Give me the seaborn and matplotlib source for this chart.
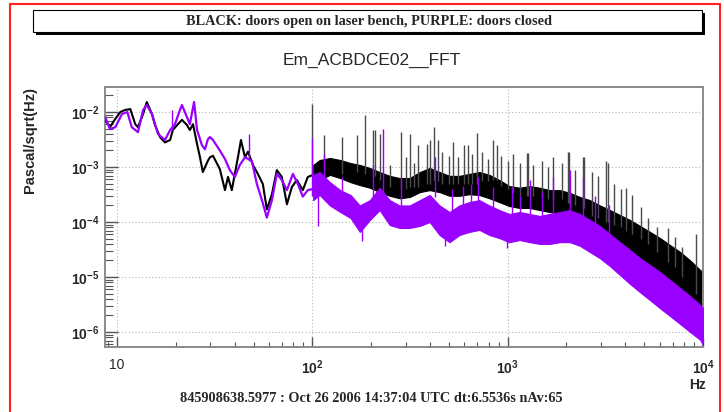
import numpy as np
import pandas as pd
import matplotlib
matplotlib.use("Agg")
import matplotlib.pyplot as plt
import seaborn as sns
from matplotlib.patches import Rectangle
from matplotlib.ticker import FixedLocator, FixedFormatter, LogLocator, NullFormatter

# ---------------------------------------------------------------- data
# low-frequency part of the "doors open" spectrum (Hz, Pa/sqrt(Hz))
black_freq = [8.7, 9.2, 9.8, 10.4, 11.0, 11.7, 12.4, 12.8, 13.6, 14.2, 15.1, 15.6,
              16.6, 17.6, 18.7, 19.3, 20.5, 21.5, 22.8, 23.6, 24.5, 25.7, 26.6, 27.5,
              29.2, 29.9, 31.0, 33.6, 35.7, 37.0, 38.7, 40.1, 41.6, 43.1, 45.2, 46.8,
              49.6, 52.6, 55.8, 58.5, 62.1, 65.8, 69.8, 74.1, 78.5, 83.3, 89.4, 94.8, 101]
black_amp = [7.2e-3, 5.3e-3, 7.5e-3, 1.0e-2, 1.09e-2, 1.13e-2, 6.0e-3, 5.3e-3, 9.2e-3,
             1.52e-2, 9.2e-3, 6.0e-3, 3.5e-3, 2.8e-3, 3.1e-3, 4.7e-3, 6.0e-3, 7.2e-3,
             5.8e-3, 4.7e-3, 6.0e-3, 2.6e-3, 1.5e-3, 8.1e-4, 1.3e-3, 1.5e-3, 1.6e-3,
             9.2e-4, 3.8e-4, 6.6e-4, 3.8e-4, 7.5e-4, 1.5e-3, 3.1e-3, 1.5e-3, 1.9e-3,
             1.1e-3, 7.5e-4, 4.9e-4, 1.7e-4, 3.2e-4, 8.8e-4, 6.6e-4, 2.1e-4, 4.3e-4,
             5.8e-4, 3.8e-4, 6.6e-4, 7.2e-4]

# low-frequency part of the "doors closed" spectrum
purple_freq = [8.7, 9.2, 9.8, 10.6, 11.3, 11.9, 12.8, 13.6, 14.2, 15.1, 16.2, 17.6, 18.7,
               19.8, 21.0, 21.5, 22.8, 23.6, 24.8, 25.7, 27.2, 28.2, 29.2, 29.9, 31.0,
               33.6, 35.7, 37.8, 40.1, 42.6, 45.2, 49.0, 52.0, 55.2, 58.5, 62.1, 65.8,
               69.8, 74.1, 79.5, 84.3, 89.4, 94.8, 101]
purple_amp = [8.1e-3, 4.9e-3, 5.3e-3, 9.2e-3, 1.0e-2, 5.3e-3, 4.3e-3, 1.09e-2, 1.34e-2,
              9.2e-3, 4.0e-3, 3.1e-3, 4.7e-3, 6.0e-3, 1.09e-2, 1.34e-2, 8.1e-3, 6.0e-3,
              1.52e-2, 4.7e-3, 2.5e-3, 2.1e-3, 3.2e-3, 3.5e-3, 3.1e-3, 2.0e-3, 1.4e-3,
              8.8e-4, 6.6e-4, 1.1e-3, 1.5e-3, 1.3e-3, 4.9e-4, 2.5e-4, 1.2e-4, 2.5e-4,
              7.5e-4, 5.8e-4, 3.8e-4, 7.5e-4, 4.9e-4, 2.9e-4, 3.8e-4, 4.0e-4]

# spread of the averaged spectra above 100 Hz (lower / upper edge)
band_freq = [101, 109, 123, 139, 157, 175, 197, 221, 249, 280, 315, 355, 399, 448, 504,
             566, 636, 716, 806, 907, 1021, 1152, 1296, 1459, 1642, 1848, 2080, 2341,
             2635, 2966, 3338, 3757, 4229, 4760, 5357, 6030, 6787, 7638, 8597, 9676, 10000]
black_band_hi = [1.09e-3, 1.34e-3, 1.46e-3, 1.34e-3, 1.18e-3, 1.09e-3, 9.6e-4, 8.1e-4,
                 6.9e-4, 6.3e-4, 6.3e-4, 8.1e-4, 9.6e-4, 8.1e-4, 6.9e-4, 6.9e-4, 7.5e-4,
                 8.1e-4, 7.2e-4, 5.8e-4, 4.5e-4, 4.2e-4, 4.5e-4, 4.2e-4, 3.8e-4, 3.8e-4,
                 3.4e-4, 2.85e-4, 2.5e-4, 2.0e-4, 1.65e-4, 1.34e-4, 1.09e-4, 8.5e-5,
                 6.6e-5, 5.1e-5, 3.8e-5, 2.85e-5, 2.0e-5, 1.34e-5, 1.23e-5]
black_band_lo = [4.7e-4, 5.8e-4, 7.2e-4, 6.3e-4, 5.3e-4, 4.7e-4, 4.2e-4, 3.5e-4, 3.0e-4,
                 2.7e-4, 2.85e-4, 3.5e-4, 3.8e-4, 3.5e-4, 3.0e-4, 3.0e-4, 3.2e-4, 3.1e-4,
                 2.7e-4, 2.3e-4, 1.95e-4, 1.8e-4, 1.8e-4, 1.65e-4, 1.52e-4, 1.4e-4,
                 1.29e-4, 1.09e-4, 9.2e-5, 7.2e-5, 5.6e-5, 4.3e-5, 3.1e-5, 2.2e-5,
                 1.58e-5, 1.13e-5, 7.5e-6, 4.7e-6, 2.7e-6, 1.65e-6, 1.34e-6]
purple_band_hi = [7.2e-4, 8.1e-4, 5.3e-4, 3.8e-4, 3.1e-4, 2.0e-4, 2.5e-4, 4.2e-4, 2.5e-4,
                  2.0e-4, 2.0e-4, 2.5e-4, 3.1e-4, 2.0e-4, 1.52e-4, 2.0e-4, 2.3e-4, 2.5e-4,
                  2.0e-4, 1.65e-4, 1.4e-4, 1.52e-4, 1.4e-4, 1.29e-4, 1.4e-4, 1.52e-4,
                  1.65e-4, 1.4e-4, 1.09e-4, 8.5e-5, 6.0e-5, 4.3e-5, 3.1e-5, 2.2e-5,
                  1.65e-5, 1.23e-5, 8.8e-6, 6.3e-6, 4.5e-6, 3.1e-6, 2.7e-6]
purple_band_lo = [2.5e-4, 3.1e-4, 2.0e-4, 1.52e-4, 1.18e-4, 6.6e-5, 1.09e-4, 1.65e-4,
                  8.8e-5, 7.8e-5, 7.8e-5, 8.5e-5, 1.0e-4, 5.8e-5, 4.3e-5, 5.8e-5, 6.6e-5,
                  7.2e-5, 5.8e-5, 5.1e-5, 4.3e-5, 4.7e-5, 4.3e-5, 4.0e-5, 4.0e-5, 4.3e-5,
                  4.3e-5, 3.7e-5, 2.85e-5, 2.2e-5, 1.58e-5, 1.09e-5, 7.5e-6, 5.3e-6,
                  3.8e-6, 2.7e-6, 1.95e-6, 1.4e-6, 1.0e-6, 7.2e-7, 5.8e-7]

# narrow lines of the "doors open" spectrum: frequency, peak, floor
black_spike_freq = [100, 114.5, 141.6, 168.9, 185.6, 204, 208.8, 221.5, 250, 283.7, 300,
                    315.3, 330, 346.5, 385.3, 399, 418.2, 438.4, 460, 500, 523.2, 554.9,
                    595.6, 624.4, 654.5, 694.1, 740, 790, 838, 878.4, 920, 1000, 1061,
                    1150, 1251, 1266, 1350, 1500, 1600, 1699, 1889, 2027, 2051, 2200,
                    2419, 2448, 2700, 2900, 3171, 3247, 3500, 3800, 4013, 4309, 4790,
                    5201, 5784, 6584, 7147, 7762, 9155]
black_spike_top = [1.39e-2, 3.8e-3, 3.5e-3, 3.8e-3, 8.8e-3, 4.7e-3, 4.7e-3, 4.0e-3, 1.1e-3,
                   4.3e-3, 1.5e-3, 4.0e-3, 1.2e-3, 2.5e-3, 2.6e-3, 3.1e-3, 5.3e-3, 3.1e-3,
                   1.9e-3, 1.6e-3, 2.9e-3, 1.5e-3, 2.5e-3, 2.5e-3, 1.7e-3, 4.1e-3, 1.9e-3,
                   1.4e-3, 3.1e-3, 2.5e-3, 1.6e-3, 1.3e-3, 1.7e-3, 1.2e-3, 1.8e-3, 1.8e-3,
                   1.1e-3, 1.3e-3, 1.0e-3, 1.5e-3, 1.2e-3, 1.9e-3, 1.9e-3, 9.0e-4, 1.5e-3,
                   1.5e-3, 8.0e-4, 7.0e-4, 1.3e-3, 1.2e-3, 5.0e-4, 4.0e-4, 4.2e-4, 3.1e-4,
                   1.9e-4, 1.2e-4, 8.1e-5, 7.8e-5, 5.3e-5, 3.5e-5, 6.0e-5]
black_spike_floor = [7.0e-4, 8.8e-4, 7.5e-4, 8.0e-4, 7.5e-4, 7.0e-4, 7.0e-4, 5.8e-4, 4.3e-4,
                     4.0e-4, 4.0e-4, 4.3e-4, 4.3e-4, 4.3e-4, 5.0e-4, 5.0e-4, 5.8e-4, 5.5e-4,
                     5.0e-4, 5.0e-4, 5.0e-4, 5.0e-4, 5.0e-4, 5.0e-4, 5.0e-4, 5.0e-4, 5.5e-4,
                     5.5e-4, 5.8e-4, 5.8e-4, 4.5e-4, 4.0e-4, 3.3e-4, 3.0e-4, 3.0e-4, 3.0e-4,
                     3.0e-4, 2.8e-4, 2.6e-4, 2.5e-4, 2.6e-4, 2.2e-4, 2.2e-4, 2.0e-4, 1.8e-4,
                     1.8e-4, 1.3e-4, 1.2e-4, 1.0e-4, 1.0e-4, 9.0e-5, 8.0e-5, 7.0e-5, 6.0e-5,
                     5.0e-5, 4.0e-5, 2.8e-5, 1.9e-5, 1.5e-5, 1.0e-5, 5.0e-6]

# narrow lines and dips of the "doors closed" spectrum
purple_spike_freq = [19.1, 47.3, 100, 106.5, 114.5, 141.6, 180, 204, 229, 283.7, 423, 480,
                     520, 590, 650, 702, 838, 990, 1048, 1150, 1296, 1500, 1699, 2075,
                     2419, 2800, 3300]
purple_spike_top = [1.09e-2, 4.0e-3, 3.3e-3, 3.0e-4, 1.7e-3, 6.6e-4, 1.0e-4, 1.1e-3,
                    5.0e-3, 6.6e-4, 1.5e-3, 6.0e-5, 4.0e-4, 4.5e-4, 5.0e-4, 6.6e-4, 4.3e-4,
                    6.0e-5, 4.3e-4, 3.0e-4, 5.8e-4, 3.5e-4, 6.6e-4, 8.8e-4, 6.6e-4,
                    3.0e-4, 2.0e-4]
purple_spike_floor = [4.7e-3, 1.3e-3, 3.0e-4, 8.5e-5, 4.0e-4, 2.0e-4, 4.5e-5, 2.0e-4,
                      2.5e-4, 1.1e-4, 2.8e-4, 3.6e-5, 6.0e-5, 8.0e-5, 9.0e-5, 1.6e-4,
                      1.5e-4, 3.4e-5, 7.0e-5, 7.0e-5, 8.0e-5, 6.0e-5, 6.0e-5, 8.0e-5,
                      6.0e-5, 3.0e-5, 2.5e-5]

x_ticks = [10, 100, 1000, 10000]
x_tick_labels = ["10", r"$10^{2}$", r"$10^{3}$", r"$10^{4}$"]
y_ticks = [1e-6, 1e-5, 1e-4, 1e-3, 1e-2]
y_tick_labels = [r"$10^{-6}$", r"$10^{-5}$", r"$10^{-4}$", r"$10^{-3}$", r"$10^{-2}$"]

# ---------------------------------------------------------------- style
sns.set_theme(style="white")
plt.rcParams["font.family"] = ["Liberation Sans", "DejaVu Sans"]
plt.rcParams["mathtext.fontset"] = "custom"
plt.rcParams["mathtext.rm"] = "Liberation Sans:bold"
plt.rcParams["mathtext.it"] = "Liberation Sans:bold"
plt.rcParams["mathtext.bf"] = "Liberation Sans:bold"

BLACK = "#000000"
PURPLE = "#9900ff"
W, H = 724, 412

fig = plt.figure(figsize=(W / 100, H / 100), dpi=100)
fig.patch.set_facecolor("white")

# red pad border
fig.add_artist(Rectangle((10 / W, -0.05), 710 / W, 1.05 - 4 / H, transform=fig.transFigure,
                         fill=False, edgecolor="#ff2020", linewidth=1.5))

# header box with drop shadow
bx0, by0, bw, bh = 33 / W, 1 - 32 / H, 669 / W, 22 / H
fig.add_artist(Rectangle((bx0 + 3 / W, by0 - 3 / H), bw, bh, transform=fig.transFigure,
                         facecolor="black", edgecolor="black", linewidth=0))
fig.add_artist(Rectangle((bx0, by0), bw, bh, transform=fig.transFigure,
                         facecolor="white", edgecolor="black", linewidth=0.8))
fig.text(369 / W, 1 - 21 / H, "BLACK: doors open on laser bench, PURPLE: doors closed",
         ha="center", va="center", fontsize=10.3, fontweight="bold",
         family=["Liberation Serif", "DejaVu Serif"])

fig.text(372 / W, 1 - 60 / H, "Em_ACBDCE02__FFT", ha="center", va="center", fontsize=12.5)

ax = fig.add_axes([105 / W, 1 - 347 / H, 598 / W, 260 / H])
ax.set_xscale("log")
ax.set_yscale("log")

# doors open
ax.fill_between(band_freq, black_band_lo, black_band_hi, color=BLACK, linewidth=0.8,
                edgecolor=BLACK, zorder=2)
sns.lineplot(x=black_freq, y=black_amp, ax=ax, color=BLACK, linewidth=1.5,
             sort=False, estimator=None, zorder=3)
ax.vlines(black_spike_freq, black_spike_floor, black_spike_top, color="#4a4a4a",
          linewidth=1.0, zorder=3)

# doors closed
ax.fill_between(band_freq, purple_band_lo, purple_band_hi, color=PURPLE, linewidth=0.8,
                edgecolor=PURPLE, zorder=4)
sns.lineplot(x=purple_freq, y=purple_amp, ax=ax, color=PURPLE, linewidth=1.6,
             sort=False, estimator=None, zorder=5)
ax.vlines(purple_spike_freq, purple_spike_floor, purple_spike_top, color=PURPLE,
          linewidth=1.0, zorder=5)

ax.set_xlim(8.68, 10000)
ax.set_ylim(5.34e-7, 2.85e-2)

ax.xaxis.set_major_locator(FixedLocator(x_ticks))
ax.xaxis.set_major_formatter(FixedFormatter(x_tick_labels))
ax.yaxis.set_major_locator(FixedLocator(y_ticks))
ax.yaxis.set_major_formatter(FixedFormatter(y_tick_labels))
ax.xaxis.set_minor_locator(LogLocator(base=10, subs=np.arange(2, 10), numticks=20))
ax.yaxis.set_minor_locator(LogLocator(base=10, subs=np.arange(2, 10), numticks=20))
ax.xaxis.set_minor_formatter(NullFormatter())
ax.yaxis.set_minor_formatter(NullFormatter())

ax.tick_params(axis="y", which="major", direction="in", length=9, width=1.0,
               color="#555555", left=True, right=False, pad=4, labelsize=10)
ax.tick_params(axis="y", which="minor", direction="in", length=5.5, width=0.8,
               color="#555555", left=True, right=False)
ax.tick_params(axis="x", which="major", direction="in", length=7, width=1.0,
               color="#555555", bottom=True, top=False, pad=8, labelsize=10)
ax.tick_params(axis="x", which="minor", direction="in", length=3.5, width=0.8,
               color="#555555", bottom=True, top=False)

ax.grid(True, which="major", color="#b5b5b5", linestyle=(0, (1, 2)), linewidth=0.8)
ax.set_axisbelow(True)
for sp in ax.spines.values():
    sp.set_color("#8a8a8a")
    sp.set_linewidth(1.4)

ax.set_xlabel("")
ax.set_ylabel("")
fig.text(30 / W, 1 - 87 / H, "Pascal/sqrt(Hz)", rotation=90, ha="center", va="top",
         fontsize=10.5, fontweight="bold")
fig.text(706 / W, 1 - 385 / H, "Hz", ha="right", va="center", fontsize=10,
         fontweight="bold")

fig.text(371 / W, 1 - 399 / H,
         "845908638.5977 : Oct 26 2006 14:37:04 UTC dt:6.5536s nAv:65",
         ha="center", va="center", fontsize=10.3, fontweight="bold",
         family=["Liberation Serif", "DejaVu Serif"])

fig.savefig("out.png", dpi=100)
